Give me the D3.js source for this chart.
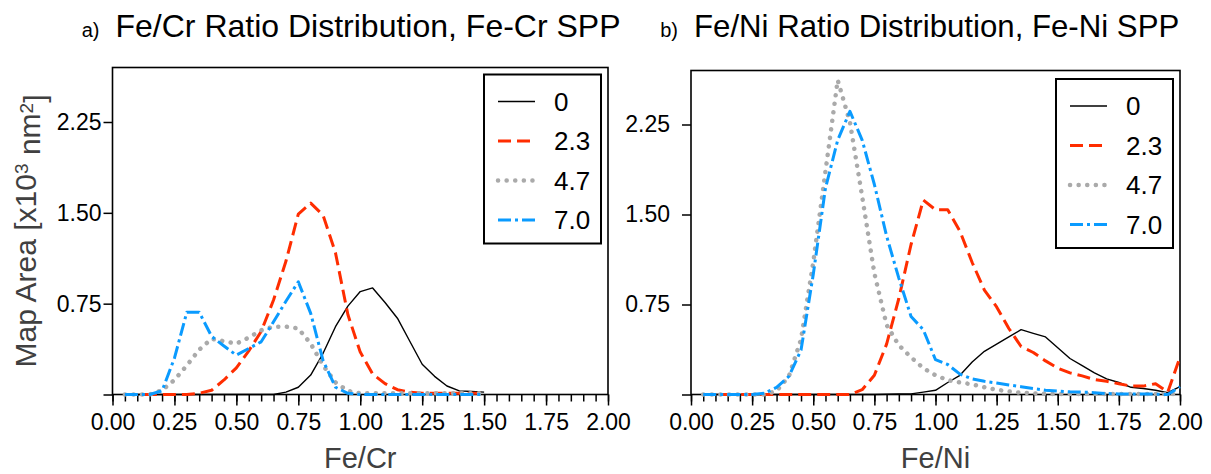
<!DOCTYPE html>
<html>
<head>
<meta charset="utf-8">
<script src="https://cdn.jsdelivr.net/npm/d3@7"></script>
<style>
  body { margin: 0; background: #fff; }
  svg { font-family: "Liberation Sans", Arial, sans-serif; }
</style>
</head>
<body>
<svg id="chart" width="1211" height="474"></svg>
<script>
// --- data ---
var seriesNames = ['0', '2.3', '4.7', '7.0'];

var xCr = [0.05, 0.10, 0.15, 0.20, 0.25, 0.30, 0.35, 0.40, 0.45, 0.50,
           0.55, 0.60, 0.65, 0.70, 0.75, 0.80, 0.85, 0.90, 0.95, 1.00,
           1.05, 1.10, 1.15, 1.20, 1.25, 1.30, 1.35, 1.40, 1.45, 1.50];
var cr0  = [0, 0, 0, 0, 0, 0, 0, 0, 0, 0,
            0, 0, 0, 0.02, 0.06, 0.16, 0.34, 0.56, 0.73, 0.85,
            0.88, 0.76, 0.63, 0.44, 0.25, 0.15, 0.07, 0.03, 0.025, 0.02];
var cr23 = [0, 0, 0, 0, 0, 0, 0.01, 0.035, 0.12, 0.22,
            0.36, 0.52, 0.78, 1.10, 1.49, 1.58, 1.48, 1.17, 0.66, 0.35,
            0.17, 0.09, 0.04, 0.02, 0.01, 0.01, 0.01, 0.01, 0.01, 0.01];
var cr47 = [0, 0, 0, 0.035, 0.12, 0.24, 0.37, 0.46, 0.44, 0.42,
            0.47, 0.53, 0.56, 0.56, 0.545, 0.42, 0.24, 0.10, 0.03, 0.01,
            0.01, 0.01, 0.01, 0.01, 0.01, 0.01, 0.01, 0.01, 0.01, 0.01];
var cr70 = [0, 0, 0, 0.03, 0.30, 0.68, 0.68, 0.48, 0.40, 0.325,
            0.38, 0.435, 0.60, 0.77, 0.93, 0.67, 0.28, 0.06, 0.01, 0,
            0, 0, 0, 0, 0, 0, 0, 0, 0, 0];

var xNi = [0.05, 0.10, 0.15, 0.20, 0.25, 0.30, 0.35, 0.40, 0.45, 0.50,
           0.55, 0.60, 0.65, 0.70, 0.75, 0.80, 0.85, 0.90, 0.95, 1.00,
           1.05, 1.10, 1.15, 1.20, 1.25, 1.30, 1.35, 1.40, 1.45, 1.50,
           1.55, 1.60, 1.65, 1.70, 1.75, 1.80, 1.85, 1.90, 1.95, 2.00];
var ni0  = [0, 0, 0, 0, 0, 0, 0, 0, 0, 0,
            0, 0, 0, 0, 0, 0.002, 0.005, 0.005, 0.02, 0.035,
            0.10, 0.16, 0.27, 0.36, 0.42, 0.48, 0.54, 0.51, 0.48, 0.39,
            0.30, 0.24, 0.18, 0.13, 0.10, 0.06, 0.05, 0.035, 0.015, 0.065];
var ni23 = [0, 0, 0, 0, 0, 0, 0, 0, 0, 0,
            0, 0, 0, 0.04, 0.16, 0.42, 0.80, 1.25, 1.62, 1.54,
            1.54, 1.36, 1.10, 0.87, 0.73, 0.55, 0.40, 0.35, 0.28, 0.22,
            0.18, 0.155, 0.125, 0.11, 0.09, 0.07, 0.07, 0.09, 0.02, 0.31];
var ni47 = [0, 0, 0, 0, 0, 0, 0.03, 0.15, 0.46, 1.10,
            1.86, 2.62, 2.27, 1.65, 1.01, 0.58, 0.41, 0.31, 0.22, 0.16,
            0.12, 0.10, 0.085, 0.06, 0.04, 0.025, 0.015, 0.01, 0.005, 0.005,
            0.005, 0.005, 0.005, 0.005, 0.005, 0.005, 0.005, 0.005, 0.005, 0.005];
var ni70 = [0, 0, 0, 0, 0, 0.01, 0.06, 0.15, 0.37, 1.0,
            1.72, 2.12, 2.36, 2.12, 1.75, 1.32, 0.97, 0.65, 0.54, 0.29,
            0.25, 0.17, 0.13, 0.11, 0.095, 0.08, 0.065, 0.05, 0.035, 0.028,
            0.022, 0.02, 0.015, 0.008, 0.005, 0.005, 0.005, 0.003, 0, 0.065];

var xMajorTicks = [0, 0.25, 0.5, 0.75, 1.0, 1.25, 1.5, 1.75, 2.0];
var yTicks = [0, 0.75, 1.5, 2.25];

// line styles per series
var styles = [
    { color: '#000000', width: 1.4, dash: null, cap: 'butt' },
    { color: '#ff2d00', width: 3, dash: '13,6', cap: 'butt' },
    { color: '#aaaaaa', width: 4.5, dash: '0.1,8.5', cap: 'round' },
    { color: '#0a9bff', width: 3, dash: '13,4,3,4', cap: 'butt' }
];

var svg = d3.select('#chart');

function drawPanel(opt) {
    var x = d3.scaleLinear().domain([0, 2]).range([opt.left, opt.right]);
    var y = d3.scaleLinear().domain([0, 2.7]).range([opt.bottom, opt.top]);
    var g = svg.append('g');

    // minor x ticks every 0.05
    var minor = d3.range(0, 41).map(function(i) { return i * 0.05; });
    g.append('g')
        .attr('transform', 'translate(0,' + opt.bottom + ')')
        .call(d3.axisBottom(x).tickValues(minor).tickSize(7).tickFormat(''))
        .call(function(s) { s.select('.domain').remove(); });

    g.append('g')
        .attr('class', 'xaxis')
        .attr('transform', 'translate(0,' + opt.bottom + ')')
        .call(d3.axisBottom(x).tickValues(xMajorTicks).tickSize(11).tickPadding(8)
            .tickFormat(d3.format('.2f')))
        .call(function(s) { s.select('.domain').remove(); });

    g.append('g')
        .attr('transform', 'translate(' + opt.left + ',0)')
        .call(d3.axisLeft(y).tickValues(yTicks).tickSize(9).tickPadding(opt.yPad)
            .tickFormat(function(d) { return d == 0 ? '' : d3.format('.2f')(d); }))
        .call(function(s) { s.select('.domain').remove(); });

    g.selectAll('.tick line').attr('stroke', '#000').attr('stroke-width', 1.5);
    g.selectAll('.tick text').attr('fill', '#000').style('font-size', '23px');

    // frame
    g.append('rect')
        .attr('x', opt.left).attr('y', opt.top)
        .attr('width', opt.right - opt.left).attr('height', opt.bottom - opt.top)
        .attr('fill', 'none').attr('stroke', '#000').attr('stroke-width', 1.6);

    var line = d3.line()
        .x(function(d) { return x(d[0]); })
        .y(function(d) { return y(d[1]); });

    opt.series.forEach(function(vals, i) {
        var st = styles[i];
        var pts = opt.xs.map(function(v, k) { return [v, vals[k]]; });
        g.append('path')
            .datum(pts)
            .attr('d', line)
            .attr('fill', 'none')
            .attr('stroke', st.color)
            .attr('stroke-width', st.width)
            .attr('stroke-dasharray', st.dash)
            .attr('stroke-linecap', st.cap)
            .attr('stroke-linejoin', 'round');
    });

    // legend
    var lx = opt.right - 7 - 117, ly = opt.top + 7 + (opt.legendShift || 0);
    var lg = g.append('g').attr('transform', 'translate(' + lx + ',' + ly + ')');
    lg.append('rect').attr('width', 117).attr('height', 169)
        .attr('fill', '#fff').attr('stroke', '#000').attr('stroke-width', 2);
    seriesNames.forEach(function(name, i) {
        var st = styles[i];
        var ry = 27 + i * 39.5;
        lg.append('line')
            .attr('x1', 14).attr('x2', 51).attr('y1', ry).attr('y2', ry)
            .attr('stroke', st.color).attr('stroke-width', st.width)
            .attr('stroke-dasharray', st.dash).attr('stroke-linecap', st.cap);
        lg.append('text')
            .attr('x', 70).attr('y', ry).attr('dy', '0.36em')
            .style('font-size', '26px').text(name);
    });

    // titles
    g.append('text')
        .attr('x', opt.left - 13).attr('y', 37)
        .attr('text-anchor', 'end')
        .style('font-size', '20px').text(opt.tag);
    g.append('text')
        .attr('x', opt.left + 3).attr('y', 37)
        .style('font-size', opt.titleSize + 'px').text(opt.title);

    // x label
    g.append('text')
        .attr('x', (opt.left + opt.right) / 2).attr('y', 468)
        .attr('text-anchor', 'middle').attr('fill', '#404040')
        .style('font-size', '29px').text(opt.xlabel);
}

drawPanel({
    left: 112.5, right: 608, top: 67.5, bottom: 394.5, yPad: 2, titleSize: 32,
    xs: xCr, series: [cr0, cr23, cr47, cr70],
    tag: 'a)', title: 'Fe/Cr Ratio Distribution, Fe-Cr SPP', xlabel: 'Fe/Cr'
});
drawPanel({
    left: 691, right: 1180, top: 70.5, bottom: 394.5, yPad: 12, legendShift: 1.5, titleSize: 31.2,
    xs: xNi, series: [ni0, ni23, ni47, ni70],
    tag: 'b)', title: 'Fe/Ni Ratio Distribution, Fe-Ni SPP', xlabel: 'Fe/Ni'
});

// y axis label
var yl = svg.append('text')
    .attr('transform', 'translate(36,231) rotate(-90)')
    .attr('text-anchor', 'middle').attr('fill', '#404040')
    .style('font-size', '30px');
yl.append('tspan').text('Map Area [x10');
yl.append('tspan').attr('dy', '-0.4em').style('font-size', '19px').text('3');
yl.append('tspan').attr('dy', '0.4em').text(' nm');
yl.append('tspan').attr('dy', '-0.4em').style('font-size', '19px').text('2');
yl.append('tspan').attr('dy', '0.4em').text(']');
</script>
</body>
</html>
